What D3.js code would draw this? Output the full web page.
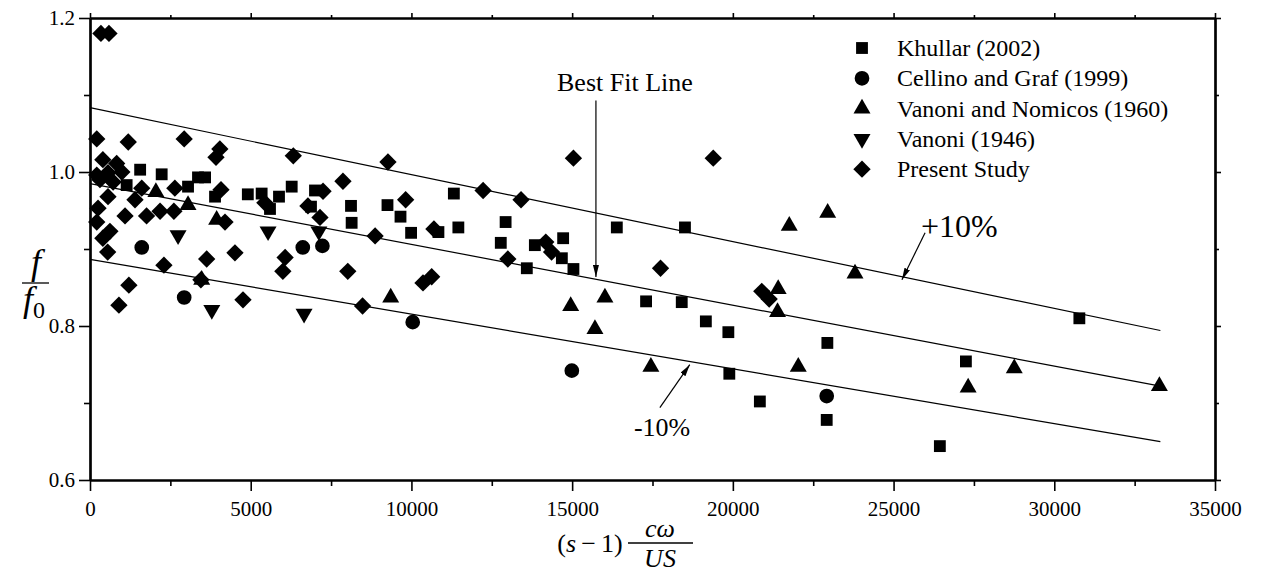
<!DOCTYPE html>
<html>
<head>
<meta charset="utf-8">
<script src="https://cdn.jsdelivr.net/npm/d3@7"></script>
<style>
  body { margin: 0; background: #fff; }
  svg { display: block; }
  text { font-family: "Liberation Serif", "Times New Roman", serif; fill: #000; }
</style>
</head>
<body>
<svg id="chart" width="1264" height="576"></svg>
<script>
// ---- data ----
const seriesNames = ['Khullar (2002)', 'Cellino and Graf (1999)', 'Vanoni and Nomicos (1960)', 'Vanoni (1946)', 'Present Study'];

const khullar = [
  [1560, 1.003], [2230, 0.997], [3360, 0.993], [3580, 0.993], [1140, 0.983], [3050, 0.981],
  [3890, 0.968], [4910, 0.971], [5340, 0.972], [5880, 0.968], [6275, 0.981], [5600, 0.952],
  [7000, 0.976], [6875, 0.955], [8120, 0.956], [8140, 0.934], [9255, 0.957], [9660, 0.942],
  [9990, 0.921], [10840, 0.922], [11320, 0.972], [11460, 0.928], [12930, 0.935], [12780, 0.908],
  [13590, 0.875], [13840, 0.905], [14720, 0.914], [14680, 0.888], [15040, 0.874], [16390, 0.928],
  [18510, 0.928], [17300, 0.832], [18410, 0.831], [19160, 0.806], [19860, 0.792], [22940, 0.778],
  [19890, 0.738], [20840, 0.702], [22920, 0.678], [27250, 0.754], [30780, 0.810], [26440, 0.644]
];
const cellino = [
  [1610, 0.902], [2930, 0.837], [6620, 0.902], [7230, 0.904], [10040, 0.805], [14990, 0.742], [22920, 0.709]
];
const vanoniNomicos = [
  [2050, 0.974], [3050, 0.957], [3940, 0.938], [3475, 0.860], [9355, 0.837], [14955, 0.826],
  [16020, 0.837], [15710, 0.796], [17450, 0.747], [21390, 0.818], [21410, 0.848], [21755, 0.930],
  [22035, 0.747], [22950, 0.947], [23800, 0.868], [27320, 0.720], [28755, 0.745], [33270, 0.722]
];
const vanoni = [
  [2740, 0.918], [3790, 0.821], [5540, 0.923], [6660, 0.816], [7120, 0.923]
];
const presentStudy = [
  [340, 1.180], [590, 1.180], [210, 1.043], [1190, 1.039], [2930, 1.043], [4040, 1.030],
  [3920, 1.019], [6325, 1.021], [9270, 1.013], [15040, 1.018], [19390, 1.018],
  [400, 1.016], [830, 1.011], [210, 0.996], [560, 0.999], [990, 1.000], [310, 0.990],
  [720, 0.987], [1610, 0.979], [560, 0.968], [1400, 0.964], [250, 0.953], [1090, 0.943],
  [1760, 0.943], [2180, 0.949], [2610, 0.949], [210, 0.935], [620, 0.923], [400, 0.914],
  [550, 0.896], [2300, 0.879], [3630, 0.887], [4510, 0.895], [2640, 0.979], [4075, 0.977],
  [4200, 0.935], [3450, 0.860], [1210, 0.853], [900, 0.827], [4760, 0.834], [7870, 0.988],
  [7250, 0.975], [6780, 0.956], [7155, 0.941], [5440, 0.960], [8870, 0.917], [9820, 0.964],
  [6070, 0.889], [6000, 0.871], [8020, 0.871], [8480, 0.826], [12230, 0.976], [13410, 0.964],
  [13000, 0.887], [10700, 0.926], [14180, 0.909], [14360, 0.896], [10360, 0.856], [10630, 0.864],
  [17750, 0.875], [20900, 0.845], [21130, 0.835]
];

// best fit line f/f0 = a + b*x and the +/-10% band
const fitIntercept = 0.985;
const fitSlope = -7.9e-6;
const fitXRange = [0, 33300];
const fitFactors = [1.1, 1.0, 0.9];

const xMajorTicks = [0, 5000, 10000, 15000, 20000, 25000, 30000, 35000];
const xMinorTicks = [2500, 7500, 12500, 17500, 22500, 27500, 32500];
const yMajorTicks = [0.6, 0.8, 1.0, 1.2];
const yMinorTicks = [0.7, 0.9, 1.1];

// ---- layout ----
const svg = d3.select('#chart');
const margin = { left: 90, right: 49, top: 18, bottom: 96 };
const W = 1264, H = 576;
const x = d3.scaleLinear().domain([0, 35000]).range([margin.left, W - margin.right]);
const y = d3.scaleLinear().domain([0.6, 1.2]).range([H - margin.bottom, margin.top]);

// fit lines
const line = d3.line().x(d => x(d[0])).y(d => y(d[1]));
fitFactors.forEach(k => {
  const pts = fitXRange.map(v => [v, k * (fitIntercept + fitSlope * v)]);
  svg.append('path').attr('d', line(pts))
    .attr('fill', 'none').attr('stroke', '#000').attr('stroke-width', 1.2);
});

// axes
function drawAxis(axis, transform, showLabels) {
  const g = svg.append('g').attr('transform', transform).call(axis);
  g.select('.domain').attr('stroke-width', 2.2);
  g.selectAll('.tick line').attr('stroke-width', 1.6);
  g.selectAll('text').style('font-family', '"Liberation Serif", serif').style('font-size', '21px')
    .attr('fill', '#000');
  if (!showLabels) g.selectAll('text').remove();
  return g;
}
const fmtY = d3.format('.1f');
drawAxis(d3.axisBottom(x).tickValues(xMajorTicks).tickSize(11).tickSizeOuter(0).tickPadding(10).tickFormat(d3.format('d')),
  `translate(0,${y(0.6)})`, true);
drawAxis(d3.axisBottom(x).tickValues(xMinorTicks).tickSize(6).tickSizeOuter(0), `translate(0,${y(0.6)})`, false);
drawAxis(d3.axisTop(x).tickValues(xMajorTicks).tickSize(5).tickSizeOuter(0), `translate(0,${y(1.2)})`, false);
drawAxis(d3.axisTop(x).tickValues(xMinorTicks).tickSize(3).tickSizeOuter(0), `translate(0,${y(1.2)})`, false);
drawAxis(d3.axisLeft(y).tickValues(yMajorTicks).tickSize(11).tickSizeOuter(0).tickPadding(4).tickFormat(fmtY),
  `translate(${x(0)},0)`, true);
drawAxis(d3.axisLeft(y).tickValues(yMinorTicks).tickSize(6).tickSizeOuter(0), `translate(${x(0)},0)`, false);
drawAxis(d3.axisRight(y).tickValues(yMajorTicks).tickSize(6).tickSizeOuter(0), `translate(${x(35000)},0)`, false);
drawAxis(d3.axisRight(y).tickValues(yMinorTicks).tickSize(4).tickSizeOuter(0), `translate(${x(35000)},0)`, false);

// markers
const symbols = [
  { data: khullar, type: d3.symbolSquare, size: 140, rot: 0 },
  { data: cellino, type: d3.symbolCircle, size: 170, rot: 0 },
  { data: vanoniNomicos, type: d3.symbolTriangle, size: 125, rot: 0 },
  { data: vanoni, type: d3.symbolTriangle, size: 125, rot: 180 },
  { data: presentStudy, type: d3.symbolSquare, size: 150, rot: 45 }
];
symbols.forEach(s => {
  const path = d3.symbol().type(s.type).size(s.size)();
  svg.append('g').selectAll('path').data(s.data).join('path')
    .attr('d', path)
    .attr('transform', d => `translate(${x(d[0])},${y(d[1])}) rotate(${s.rot})`)
    .attr('fill', '#000');
});

// legend
const legend = svg.append('g').attr('transform', 'translate(862,48)');
seriesNames.forEach((name, i) => {
  const s = symbols[i];
  const row = legend.append('g').attr('transform', `translate(0,${i * 30.3})`);
  row.append('path').attr('d', d3.symbol().type(s.type).size(s.size)())
    .attr('transform', `rotate(${s.rot})`).attr('fill', '#000');
  row.append('text').attr('x', 35).attr('y', 8).style('font-size', '24px').text(name);
});

// arrow annotations
svg.append('defs').append('marker')
  .attr('id', 'arrow').attr('viewBox', '0 0 12 6').attr('refX', 12).attr('refY', 3)
  .attr('markerWidth', 12).attr('markerHeight', 6).attr('markerUnits', 'userSpaceOnUse')
  .attr('orient', 'auto')
  .append('path').attr('d', 'M0,0 L12,3 L0,6 Z').attr('fill', '#000');

function arrow(x0, y0, x1, y1) {
  svg.append('line').attr('x1', x(x0)).attr('y1', y(y0)).attr('x2', x(x1)).attr('y2', y(y1))
    .attr('stroke', '#000').attr('stroke-width', 1.2).attr('marker-end', 'url(#arrow)');
}
const fitAt = (v, k) => k * (fitIntercept + fitSlope * v);

arrow(15740, 1.093, 15740, fitAt(15740, 1.0) + 0.003);
svg.append('text').attr('x', x(15740) + 29).attr('y', y(1.2) + 73).attr('text-anchor', 'middle')
  .style('font-size', '26px').text('Best Fit Line');

arrow(25980, 0.921, 25260, fitAt(25260, 1.1) - 0.004);
svg.append('text').attr('x', x(25980) - 4).attr('y', y(0.921) + 4)
  .style('font-size', '32px').text('+10%');

arrow(17730, 0.694, 18660, fitAt(18660, 0.9) - 0.004);
svg.append('text').attr('x', x(17730) - 26).attr('y', y(0.694) + 28)
  .style('font-size', '26px').text('-10%');

// y axis title: f / f0
const yt = svg.append('g').attr('transform', 'translate(36,283)');
yt.append('text').attr('x', 0).attr('y', -9).attr('text-anchor', 'middle')
  .style('font-size', '36px').style('font-style', 'italic').text('f');
yt.append('line').attr('x1', -14).attr('x2', 13).attr('y1', 0).attr('y2', 0)
  .attr('stroke', '#000').attr('stroke-width', 1.3);
const yb = yt.append('text').attr('x', -2).attr('y', 28).attr('text-anchor', 'middle')
  .style('font-size', '36px');
yb.append('tspan').style('font-style', 'italic').text('f');
yb.append('tspan').attr('dy', 7).style('font-size', '24px').text('0');

// x axis title: (s-1) cω/US
const xt = svg.append('g').attr('transform', 'translate(590,543)');
const xl = xt.append('text').attr('x', 0).attr('y', 9).attr('text-anchor', 'middle').style('font-size', '26px');
xl.append('tspan').text('(');
xl.append('tspan').style('font-style', 'italic').text('s');
xl.append('tspan').text('\u2009\u2212\u20091)');
xt.append('line').attr('x1', 38).attr('x2', 103).attr('y1', 0).attr('y2', 0)
  .attr('stroke', '#000').attr('stroke-width', 1.3);
xt.append('text').attr('x', 70).attr('y', -6).attr('text-anchor', 'middle')
  .style('font-size', '26px').style('font-style', 'italic').text('c\u03c9');
xt.append('text').attr('x', 70).attr('y', 24).attr('text-anchor', 'middle')
  .style('font-size', '26px').style('font-style', 'italic').text('US');
</script>
</body>
</html>
